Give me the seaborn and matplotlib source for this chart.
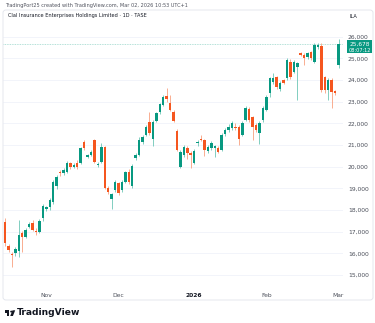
import matplotlib
matplotlib.use("Agg")
import matplotlib.pyplot as plt
from matplotlib.patches import FancyBboxPatch, Rectangle, Polygon, Circle
import seaborn as sns
import numpy as np
import pandas as pd

# ---- data ----
opens = [17450, 16350, 15970, 16030, 16110, 16950, 16770, 17230, 17410, 17050,
         17000, 17620, 18060, 18150, 18370, 19100, 19770, 19700, 19770, 20150,
         20000, 20180, 20150, 21150, 20460, 20540, 21230, 20070, 20230, 20890,
         19000, 18490, 18920, 19230, 18920, 19300, 19770, 19110, 20385, 20540,
         21150, 21460, 22075, 21260, 22120, 22540, 22850, 23260, 22950, 22540,
         21660, 19970, 20540, 20860, 20630, 20170, 21070, 21280, 21230, 20720,
         20860, 20860, 20860, 20770, 21510, 21690, 21780, 21830, 21830, 21460,
         22150, 22660, 22290, 21920, 21550, 22150, 22610, 23400, 23900, 24140,
         23580, 24000, 24090, 24830, 24370, 24600, 25230, 25150, 25060, 25290,
         24830, 25520, 25570, 24140, 23540, 24000, 23490, 24700]
highs = [17630, 16430, 16080, 16290, 17540, 17030, 17170, 17450, 17540, 17170,
         17580, 18280, 18200, 18550, 19380, 19620, 19850, 19950, 20280, 20230,
         20150, 20300, 20900, 21230, 20600, 20750, 21260, 20200, 21090, 20950,
         19100, 18800, 19400, 19300, 19400, 19800, 19900, 20100, 20620, 21350,
         21450, 21920, 22540, 22150, 22540, 22950, 23300, 23620, 23300, 22600,
         21750, 20750, 21000, 20950, 20700, 20800, 21230, 21450, 21280, 21000,
         21200, 21000, 20950, 21550, 21800, 21950, 22100, 22000, 21900, 22100,
         22800, 22750, 22350, 22000, 22100, 22800, 23300, 24150, 24300, 24200,
         23950, 24050, 25000, 24950, 24900, 24850, 25300, 25250, 25300, 25350,
         25700, 25700, 25700, 24200, 24100, 24100, 23550, 25900]
lows = [16340, 16060, 15380, 15880, 15830, 16080, 16710, 17170, 17030, 16850,
        16940, 17490, 17950, 17990, 18280, 18950, 19550, 19600, 19700, 19900,
        19950, 19880, 20100, 20780, 20400, 20480, 20150, 20000, 20150, 18950,
        18750, 18030, 18850, 18700, 18850, 19250, 19200, 19000, 20300, 20480,
        21050, 21400, 21460, 20950, 22050, 22450, 22800, 23000, 22550, 22050,
        20700, 19950, 20450, 20350, 19960, 20100, 20950, 21180, 20500, 20650,
        20750, 20450, 20620, 20700, 21400, 21600, 21700, 21700, 21000, 21400,
        22100, 22050, 21230, 21600, 21050, 22050, 22550, 23200, 23800, 23600,
        23500, 23800, 24000, 24050, 24300, 23080, 25100, 24700, 24950, 24900,
        24780, 25450, 23450, 23400, 23080, 22710, 23300, 24550]
closes = [16480, 16150, 15920, 16200, 16850, 16770, 17080, 17340, 17080, 17000,
          17500, 18200, 18120, 18460, 19300, 19540, 19690, 19850, 20190, 20000,
          20080, 20000, 20845, 20845, 20540, 20690, 20230, 20100, 20890, 19000,
          18840, 18740, 19300, 18770, 19300, 19740, 19300, 20030, 20540, 21230,
          21370, 21840, 21540, 22075, 22460, 22890, 23230, 23110, 22615, 22120,
          20770, 20690, 20910, 20630, 20560, 20720, 21140, 21230, 20770, 20910,
          21090, 20950, 20680, 21460, 21690, 21830, 22010, 21780, 21280, 22010,
          22700, 22150, 21830, 21690, 22010, 22700, 23210, 24090, 24090, 23680,
          23860, 23860, 24920, 24140, 24830, 24780, 25170, 25000, 25245, 25015,
          25615, 25615, 23540, 23540, 24000, 23450, 23400, 25678]

month_labels = ["Nov", "Dec", "2026", "Feb", "Mar"]
month_index = [12, 33, 55, 76, 97]
price_ticks = [15000, 16000, 17000, 18000, 19000, 20000, 21000, 22000,
               23000, 24000, 25000, 26000]
last_price = 25678

UP = "#089981"
DOWN = "#f5561f"
UP_W = "#6cc6b6"
DOWN_W = "#f9a07f"

df = pd.DataFrame({"open": opens, "high": highs, "low": lows, "close": closes})
df["idx"] = np.arange(len(df))
df["up"] = df["close"] >= df["open"]

sns.set_theme(style="white")
plt.rcParams["font.family"] = ["DejaVu Sans"]

W, H = 375, 323
fig = plt.figure(figsize=(W / 100, H / 100), dpi=100)
fig.patch.set_facecolor("white")

# frame
frame = FancyBboxPatch((3 / W, 1 - 300 / H), 370 / W, 290 / H,
                       boxstyle="round,pad=0,rounding_size=0.008",
                       transform=fig.transFigure, fill=False,
                       edgecolor="#e0e3eb", linewidth=0.6)
fig.patches.append(frame)

ax = fig.add_axes([3 / W, 1 - 287 / H, 340 / W, 276 / H])
ax.set_facecolor("none")

# grid
for p in price_ticks:
    ax.axhline(p, color="#f0f3fa", linewidth=0.6, zorder=0)

# wicks
colors_w = np.where(df["up"], UP_W, DOWN_W)
ax.vlines(df["idx"], df["low"], df["high"], colors=colors_w, linewidth=0.6, zorder=2)

# bodies
body_bottom = np.minimum(df["open"], df["close"])
body_h = np.maximum(np.abs(df["close"] - df["open"]), 40)
colors_b = np.where(df["up"], UP, DOWN)
ax.bar(df["idx"], body_h, bottom=body_bottom, width=0.72, color=colors_b,
       linewidth=0, zorder=3)

# last price line
ax.axhline(last_price, color="#9ad6cb", linewidth=0.6, linestyle=(0, (1, 1)), zorder=1)

ax.set_xlim(-0.6, 98.3)
ax.set_ylim(14446, 27184)

ax.yaxis.tick_right()
ax.set_yticks(price_ticks)
ax.set_yticklabels([f"{p:,}" for p in price_ticks], fontsize=4.3, color="#4a4e59")
ax.tick_params(axis="y", length=0, pad=3.6)
ax.set_xticks(month_index)
ax.set_xticklabels(month_labels, fontsize=4.3, color="#4a4e59")
for lbl in ax.get_xticklabels():
    if lbl.get_text() == "2026":
        lbl.set_fontweight("bold")
        lbl.set_color("#131722")
ax.tick_params(axis="x", length=0, pad=4.5)
for s in ax.spines.values():
    s.set_visible(False)

# price label box
ybox = 1 - 53 / H
fig.patches.append(Rectangle((347 / W, ybox), 25 / W, 13 / H, transform=fig.transFigure,
                             facecolor=UP, edgecolor="none"))
fig.text(359.5 / W, 1 - 44 / H, "25,678", fontsize=4.2, color="white",
         ha="center", va="center")
fig.text(359.5 / W, 1 - 50 / H, "08:07:12", fontsize=3.6, color="white",
         ha="center", va="center")

# header texts
fig.text(5 / W, 1 - 6 / H, "TradingPort25 created with TradingView.com, Mar 02, 2026 10:53 UTC+1",
         fontsize=3.6, color="#50535e", ha="left", va="center")
fig.text(8 / W, 1 - 16 / H, "Clal Insurance Enterprises Holdings Limited · 1D · TASE",
         fontsize=3.6, color="#131722", ha="left", va="center")
fig.text(350 / W, 1 - 16 / H, "ILA", fontsize=3.6, color="#131722", ha="left", va="center")

# TradingView logo
T = fig.transFigure
def fx(x): return x / W
def fy(y): return 1 - y / H
fig.patches.append(Rectangle((fx(5), fy(312.5)), 4.2 / W, 2.2 / H, transform=T,
                             facecolor="#131722", edgecolor="none"))
fig.patches.append(Rectangle((fx(7.0), fy(316)), 2.2 / W, 5.5 / H, transform=T,
                             facecolor="#131722", edgecolor="none"))
fig.patches.append(Circle((fx(11.3), fy(311.6)), 1.1 / W, transform=T,
                          facecolor="#131722", edgecolor="none"))
fig.patches.append(Polygon([(fx(12.5), fy(310.3)), (fx(15.2), fy(310.3)),
                            (fx(12.9), fy(316)), (fx(10.2), fy(316))],
                           closed=True, transform=T, facecolor="#131722", edgecolor="none"))
fig.text(17 / W, 1 - 312.5 / H, "TradingView", fontsize=6.6, fontweight="bold",
         color="#131722", ha="left", va="center")

fig.savefig("out.png", dpi=100, facecolor="white")
